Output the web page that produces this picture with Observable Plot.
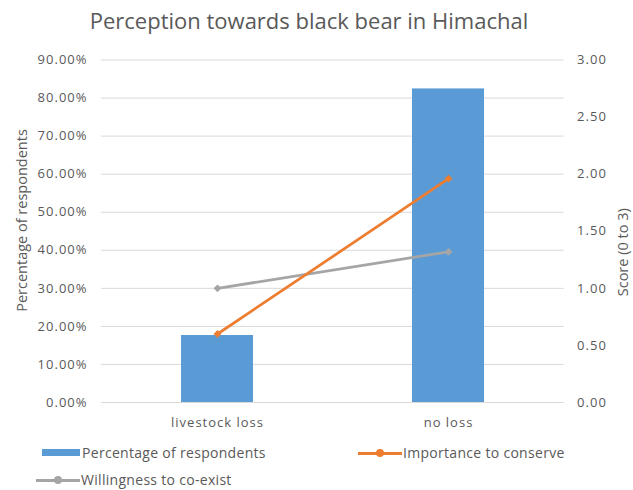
<!DOCTYPE html>
<html>
<head>
<meta charset="utf-8">
<script src="https://cdn.jsdelivr.net/npm/d3@7"></script>
<script src="https://cdn.jsdelivr.net/npm/@observablehq/plot@0.6"></script>
<style>
  html, body { margin: 0; padding: 0; background: #fff; }
  body { width: 633px; height: 490px; position: relative; overflow: hidden; font-family: "Open Sans", sans-serif; color: #595959; }
  #title { position: absolute; left: 0; top: 5px; width: 618px; text-align: center; font-size: 22px; color: #595959; white-space: nowrap; }
  #chart { position: absolute; left: 0; top: 40px; }
  #chart [aria-label$="tick label"] { letter-spacing: 1px; }
  .legend { position: absolute; font-size: 14px; color: #595959; display: flex; align-items: center; letter-spacing: 0.3px; white-space: nowrap; }
  .sw-bar { width: 38px; height: 7px; background: #5B9BD5; margin-right: 2px; }
  .sw-line { position: relative; width: 44px; height: 10px; margin-right: 1px; }
  .sw-line .ln { position: absolute; left: 0; right: 0; top: 4px; height: 3px; }
  .sw-line .mk { position: absolute; left: 18px; top: 1.5px; width: 8px; height: 8px; border-radius: 50%; }
</style>
</head>
<body>
<div id="title">Perception towards black bear in Himachal</div>
<div id="chart"></div>
<div class="legend" style="left:42px; top:443px;"><div class="sw-bar"></div><span>Percentage of respondents</span></div>
<div class="legend" style="left:358px; top:443px;"><div class="sw-line"><div class="ln" style="background:#ED7D31"></div><div class="mk" style="background:#ED7D31"></div></div><span>Importance to conserve</span></div>
<div class="legend" style="left:36px; top:470px;"><div class="sw-line"><div class="ln" style="background:#A5A5A5"></div><div class="mk" style="background:#A5A5A5"></div></div><span>Willingness to co-exist</span></div>
<script>
const categories = ["livestock loss", "no loss"];
const percentRespondents = [17.6, 82.4];
const importanceToConserve = [0.6, 1.96];
const willingnessToCoexist = [1.0, 1.32];
const leftTicks = [0, 10, 20, 30, 40, 50, 60, 70, 80, 90];
const rightTicks = [0, 0.5, 1, 1.5, 2, 2.5, 3];

const scoreToPct = 30; // 3.00 on the right axis aligns with 90% on the left

const bars = categories.map((c, i) => ({category: c, value: percentRespondents[i]}));
const importance = categories.map((c, i) => ({category: c, score: importanceToConserve[i]}));
const willingness = categories.map((c, i) => ({category: c, score: willingnessToCoexist[i]}));

const tickStyle = { fontSize: 13, fill: "#595959" };

const chart = Plot.plot({
  width: 633,
  height: 395,
  marginTop: 19.5,
  marginBottom: 33,
  marginLeft: 101,
  marginRight: 69.4,
  style: { fontFamily: "Open Sans, sans-serif", fontSize: "13px", color: "#595959", background: "#fff" },
  x: { domain: categories, paddingInner: 0.689, paddingOuter: 0.344, label: null },
  y: { domain: [0, 90], label: null },
  marks: [
    Plot.gridY(leftTicks, { stroke: "#d9d9d9", strokeOpacity: 1, strokeWidth: 1 }),
    Plot.barY(bars, { x: "category", y: "value", fill: "#5B9BD5" }),
    Plot.line(willingness, { x: "category", y: d => d.score * scoreToPct, stroke: "#A5A5A5", strokeWidth: 2.75 }),
    Plot.dot(willingness, { x: "category", y: d => d.score * scoreToPct, fill: "#A5A5A5", r: 3.5, symbol: "diamond2" }),
    Plot.line(importance, { x: "category", y: d => d.score * scoreToPct, stroke: "#ED7D31", strokeWidth: 2.75 }),
    Plot.dot(importance, { x: "category", y: d => d.score * scoreToPct, fill: "#ED7D31", r: 3.5, symbol: "diamond2" }),
    Plot.axisY(leftTicks, { anchor: "left", tickSize: 0, tickPadding: 14, tickFormat: d => d.toFixed(2) + "%", label: null, ...tickStyle }),
    Plot.axisY(rightTicks.map(d => d * scoreToPct), { anchor: "right", tickSize: 0, tickPadding: 13, tickFormat: d => (d / scoreToPct).toFixed(2), label: null, ...tickStyle }),
    Plot.axisX({ tickSize: 0, tickPadding: 15, label: null, ...tickStyle }),
    Plot.text(["Percentage of respondents"], { frameAnchor: "left", textAnchor: "middle", dx: -79, dy: -10.75, rotate: -90, fontSize: 14.5, fill: "#595959" }),
    Plot.text(["Score (0 to 3)"], { frameAnchor: "right", textAnchor: "middle", dx: 59, dy: 21, rotate: -90, fontSize: 14.5, fill: "#595959" })
  ]
});
document.getElementById("chart").appendChild(chart);
</script>
</body>
</html>
